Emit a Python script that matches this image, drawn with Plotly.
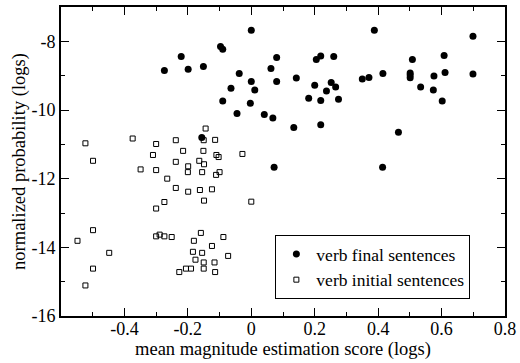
import plotly.graph_objects as go

# verb final sentences (filled circles)
final_x = [0.000, -0.097, -0.090, -0.221, 0.080, -0.274, -0.199, -0.151, 0.062, -0.038,
           0.000, 0.080, -0.064, 0.011, -0.090, -0.003, -0.045, 0.041, 0.068, -0.156,
           0.072, 0.414,
           0.388, 0.699, 0.608, 0.260, 0.219, 0.205, 0.508, 0.142, 0.350, 0.371,
           0.415, 0.501, 0.501, 0.501, 0.576, 0.611, 0.699, 0.200, 0.252, 0.266,
           0.237, 0.181, 0.219, 0.275, 0.534, 0.574, 0.602, 0.134, 0.219, 0.464]
final_y = [-7.68, -8.15, -8.23, -8.44, -8.47, -8.85, -8.81, -8.73, -8.79, -8.94,
           -9.17, -9.17, -9.37, -9.42, -9.74, -9.80, -10.10, -10.13, -10.23, -10.80,
           -11.67, -11.67,
           -7.68, -7.85, -8.41, -8.44, -8.43, -8.53, -8.53, -9.07, -9.10, -9.05,
           -8.94, -8.92, -8.98, -9.06, -9.01, -8.91, -8.95, -9.28, -9.20, -9.33,
           -9.45, -9.66, -9.72, -9.69, -9.33, -9.42, -9.74, -10.51, -10.43, -10.65]

# verb initial sentences (open squares)
initial_x = [-0.144, -0.374, -0.238, -0.150, -0.114, -0.523, -0.300, -0.310, -0.215, -0.151,
             -0.110, -0.103, -0.028, -0.499, -0.238, -0.164, -0.149, -0.199, -0.349, -0.300,
             -0.200, -0.155, -0.100, -0.111, -0.265, -0.238, -0.199, -0.162, -0.124, -0.149,
             0.000, -0.274, -0.300, -0.499, -0.548, -0.300, -0.289, -0.274, -0.251, -0.159,
             -0.181, -0.088, -0.124, -0.448, -0.184, -0.155, -0.073, -0.176, -0.150, -0.116,
             -0.499, -0.206, -0.190, -0.150, -0.227, -0.114, -0.523]
initial_y = [-10.54, -10.83, -10.88, -10.88, -10.87, -10.97, -10.99, -11.31, -11.19, -11.19,
             -11.31, -11.37, -11.28, -11.48, -11.51, -11.48, -11.58, -11.64, -11.73, -11.75,
             -11.81, -11.81, -11.81, -11.89, -12.00, -12.27, -12.38, -12.33, -12.31, -12.64,
             -12.67, -12.68, -12.87, -13.50, -13.81, -13.68, -13.63, -13.68, -13.70, -13.58,
             -13.81, -13.70, -13.96, -14.16, -14.13, -14.16, -14.25, -14.36, -14.44, -14.44,
             -14.62, -14.62, -14.62, -14.62, -14.72, -14.72, -15.11]

x_ticks = [-0.4, -0.2, 0, 0.2, 0.4, 0.6, 0.8]
x_labels = ["-0.4", "-0.2", "0", "0.2", "0.4", "0.6", "0.8"]
y_ticks = [-16, -14, -12, -10, -8]
y_labels = ["-16", "-14", "-12", "-10", "-8"]

FONT = "'Liberation Serif', 'Times New Roman', 'DejaVu Serif', serif"
tick_font = dict(family=FONT, size=18, color="black")
title_font = dict(family=FONT, size=18.5, color="black")
legend_font = dict(family=FONT, size=17.5, color="black")

fig = go.Figure()
fig.add_trace(go.Scatter(
    x=final_x, y=final_y, mode="markers", name="verb final sentences",
    marker=dict(symbol="circle", size=7, color="black", line=dict(width=0)),
))
fig.add_trace(go.Scatter(
    x=initial_x, y=initial_y, mode="markers", name="verb initial sentences",
    marker=dict(symbol="square-open", size=5, color="black", line=dict(width=1)),
))

axis_common = dict(
    showgrid=False, zeroline=False, showline=True, linecolor="black", linewidth=2,
    mirror="ticks", ticks="inside", ticklen=8, tickwidth=1, tickcolor="black",
    tickfont=tick_font,
)

fig.update_xaxes(
    range=[-0.6, 0.8], tickvals=x_ticks, ticktext=x_labels,
    ticklabelstandoff=-5,
    title=dict(text="mean magnitude estimation score (logs)", font=title_font, standoff=0),
    minor=dict(ticks="inside", ticklen=4, tickwidth=1, tickcolor="black", dtick=0.1, tick0=0),
    **axis_common,
)
fig.update_yaxes(
    range=[-16, -7], tickvals=y_ticks, ticktext=y_labels,
    title=dict(text="normalized probability (logs)", font=title_font, standoff=1),
    minor=dict(ticks="inside", ticklen=4, tickwidth=1, tickcolor="black", dtick=1, tick0=0),
    **axis_common,
)

fig.update_layout(
    width=520, height=363,
    margin=dict(l=61, r=15, t=7, b=47, autoexpand=False),
    paper_bgcolor="white", plot_bgcolor="white",
    font=tick_font,
    showlegend=True,
    legend=dict(
        x=0.922, y=0.262, xanchor="right", yanchor="top",
        bordercolor="black", borderwidth=1, bgcolor="white",
        font=legend_font, itemwidth=30, tracegroupgap=0,
    ),
)

fig.write_html(
    "out.html",
    config={"displayModeBar": False},
    post_script="document.body.style.margin='0';document.body.style.padding='0';",
)
